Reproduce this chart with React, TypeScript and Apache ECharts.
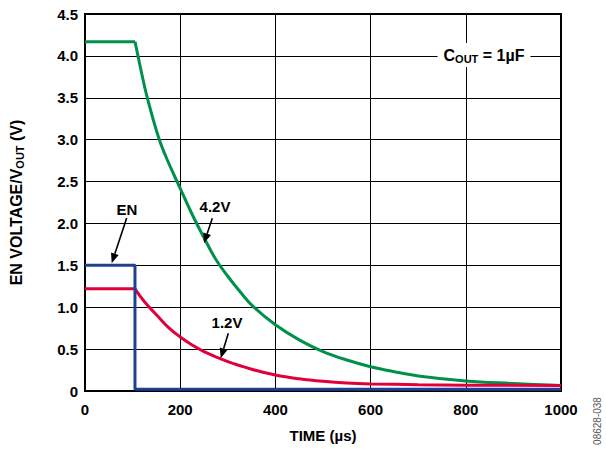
import React, { useEffect, useRef } from "react";
import * as echarts from "echarts";

const xTicks = [0, 200, 400, 600, 800, 1000];
const yTicks = ["0", "0.5", "1.0", "1.5", "2.0", "2.5", "3.0", "3.5", "4.0", "4.5"];

// 4.2V output: flat part, then decay after EN goes low
const greenFlatTime = [0, 105];
const greenFlatVolt = [4.17, 4.17];
const greenTime = [105, 118, 130, 155, 175, 200, 225, 250, 276, 300, 325, 353, 400, 450, 500, 550, 600, 650, 700, 800, 900, 1000];
const greenVolt = [4.17, 3.82, 3.52, 3.02, 2.73, 2.42, 2.11, 1.83, 1.56, 1.37, 1.19, 1.01, 0.79, 0.61, 0.47, 0.37, 0.29, 0.23, 0.18, 0.12, 0.09, 0.065];

// 1.2V output
const redFlatTime = [0, 105];
const redFlatVolt = [1.22, 1.22];
const redTime = [105, 125, 150, 175, 200, 225, 250, 300, 350, 400, 450, 500, 550, 600, 700, 800, 1000];
const redVolt = [1.22, 1.065, 0.91, 0.76, 0.645, 0.55, 0.47, 0.35, 0.26, 0.19, 0.145, 0.115, 0.095, 0.085, 0.075, 0.07, 0.065];

// EN signal
const enTime = [0, 105, 105, 1000];
const enVolt = [1.5, 1.5, 0.02, 0.02];

const FONT = "'Liberation Sans', Arial, sans-serif";
const GREEN = "#00904A";
const RED = "#E0003C";
const BLUE = "#1F3F8F";

function arrow(x1: number, y1: number, x2: number, y2: number) {
  const dx = x2 - x1;
  const dy = y2 - y1;
  const len = Math.sqrt(dx * dx + dy * dy);
  const ux = dx / len;
  const uy = dy / len;
  const hl = 10;
  const hw = 4;
  const bx = x2 - ux * hl;
  const by = y2 - uy * hl;
  return [
    {
      type: "line",
      shape: { x1, y1, x2: bx, y2: by },
      style: { stroke: "#000", lineWidth: 1.6 },
      z: 10,
    },
    {
      type: "polygon",
      shape: {
        points: [
          [x2, y2],
          [bx - uy * hw, by + ux * hw],
          [bx + uy * hw, by - ux * hw],
        ],
      },
      style: { fill: "#000" },
      z: 10,
    },
  ];
}

export default function App() {
  const ref = useRef<HTMLDivElement>(null);
  useEffect(() => {
    if (!ref.current) return;
    const chart = echarts.init(ref.current, null, { renderer: "svg" });
    const zip = (a: number[], b: number[]) => a.map((t, i) => [t, b[i]]);
    const labelStyle = { fontFamily: FONT, fontWeight: "bold" as const, fontSize: 15, color: "#000" };
    const lineSeries = (data: number[][], color: string, smooth: boolean, z: number) => ({
      type: "line",
      data,
      showSymbol: false,
      smooth: smooth ? 0.4 : false,
      lineStyle: { color, width: 3 },
      z,
    });
    chart.setOption({
      animation: false,
      backgroundColor: "#fff",
      grid: { left: 83, right: 45, top: 14, bottom: 58, show: true, borderColor: "#000", borderWidth: 2, containLabel: false },
      xAxis: {
        type: "value",
        min: 0,
        max: 1000,
        interval: 200,
        name: "TIME (µs)",
        nameLocation: "middle",
        nameGap: 37,
        nameTextStyle: { ...labelStyle },
        axisLine: { show: true, lineStyle: { color: "#000", width: 2 } },
        axisTick: { show: false },
        axisLabel: { ...labelStyle, margin: 11, formatter: (v: number) => String(xTicks[Math.round(v / 200)] ?? v) },
        splitLine: { show: true, lineStyle: { color: "#000", width: 1 } },
      },
      yAxis: {
        type: "value",
        min: 0,
        max: 4.5,
        interval: 0.5,
        name: "{b|EN VOLTAGE/V}{s|OUT}{b| (V)}",
        nameLocation: "middle",
        nameGap: 60,
        nameTextStyle: {
          rich: {
            b: { ...labelStyle, fontSize: 16 },
            s: { ...labelStyle, fontSize: 11, padding: [7, 0, 0, 0] },
          },
        },
        axisLine: { show: true, lineStyle: { color: "#000", width: 2 } },
        axisTick: { show: false },
        axisLabel: { ...labelStyle, margin: 7, formatter: (v: number) => yTicks[Math.round(v * 2)] ?? String(v) },
        splitLine: { show: true, lineStyle: { color: "#000", width: 1 } },
      },
      series: [
        lineSeries(zip(greenFlatTime, greenFlatVolt), GREEN, false, 3),
        lineSeries(zip(greenTime, greenVolt), GREEN, true, 3),
        lineSeries(zip(redFlatTime, redFlatVolt), RED, false, 4),
        lineSeries(zip(redTime, redVolt), RED, true, 4),
        lineSeries(zip(enTime, enVolt), BLUE, false, 5),
      ],
      graphic: [
        {
          type: "text",
          x: 484,
          y: 55,
          z: 20,
          style: {
            text: "{c|C}{s|OUT}{c| = 1µF}",
            x: 0,
            y: 0,
            align: "center",
            verticalAlign: "middle",
            backgroundColor: "#fff",
            padding: [3, 6, 3, 6],
            rich: {
              c: { fontFamily: FONT, fontWeight: "bold", fontSize: 16, fill: "#000" },
              s: { fontFamily: FONT, fontWeight: "bold", fontSize: 11, fill: "#000", padding: [7, 0, 0, 0] },
            },
          },
        },
        {
          type: "text",
          x: 127,
          y: 209,
          z: 20,
          style: { text: "EN", align: "center", verticalAlign: "middle", font: `bold 15px ${FONT}`, fill: "#000" },
        },
        {
          type: "text",
          x: 215,
          y: 206,
          z: 20,
          style: { text: "4.2V", align: "center", verticalAlign: "middle", font: `bold 15px ${FONT}`, fill: "#000" },
        },
        {
          type: "text",
          x: 227,
          y: 322,
          z: 20,
          style: { text: "1.2V", align: "center", verticalAlign: "middle", font: `bold 15px ${FONT}`, fill: "#000" },
        },
        ...arrow(126.7, 218, 111.7, 263.3),
        ...arrow(212.3, 218.3, 204, 243.3),
        ...arrow(228.3, 333.3, 220.7, 358.3),
        {
          type: "text",
          x: 597,
          y: 421,
          rotation: Math.PI / 2,
          z: 20,
          style: { text: "08628-038", align: "center", verticalAlign: "middle", font: `10px ${FONT}`, fill: "#555" },
        },
      ],
    });
    return () => chart.dispose();
  }, []);
  return <div ref={ref} style={{ position: "fixed", left: 0, top: 0, width: 606, height: 449 }} />;
}
